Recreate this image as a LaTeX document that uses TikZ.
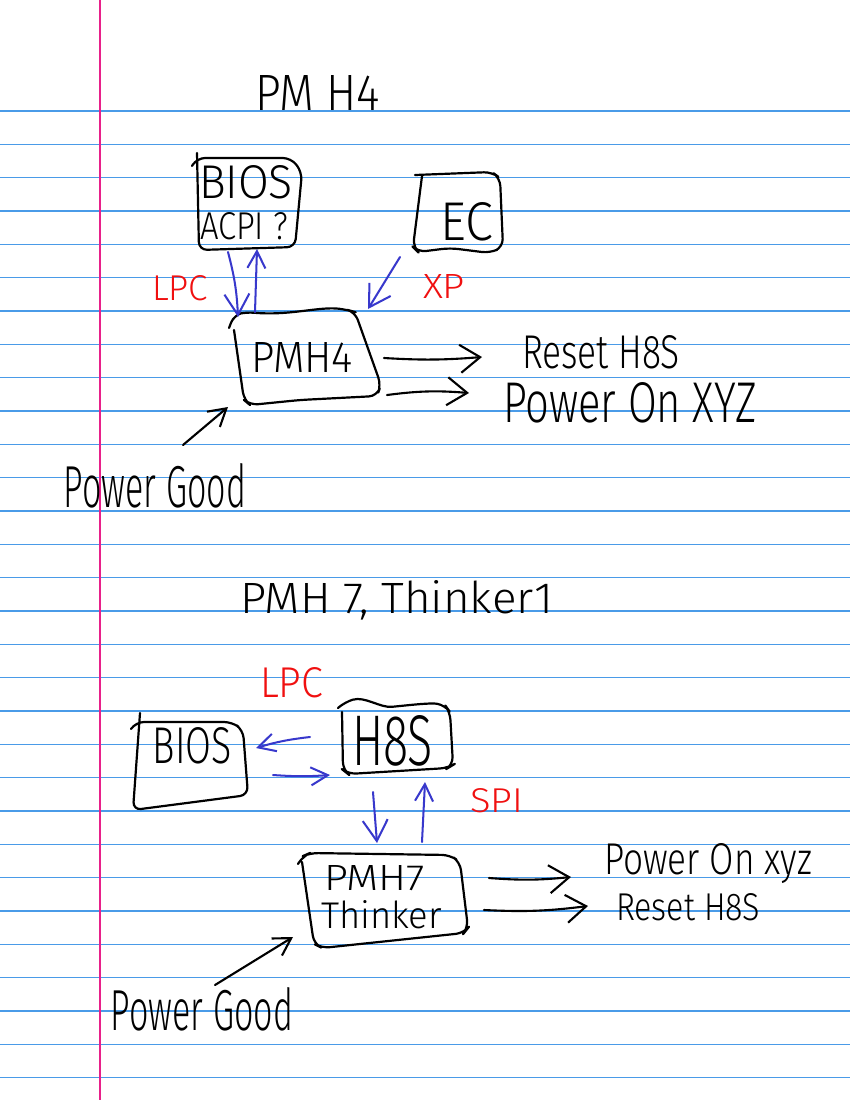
\documentclass[tikz,border=0pt]{standalone}
\usepackage{fontspec}
\setmainfont{Fira Sans}[UprightFont={* Light}]
\usetikzlibrary{arrows.meta}
\newlength{\pxu}\setlength{\pxu}{0.02cm}
\newcommand{\hw}[3]{\resizebox{#1\pxu}{#2\pxu}{#3}}
\definecolor{ruleblue}{HTML}{4A9BE8}
\definecolor{marginpink}{HTML}{E8208A}
\definecolor{penblue}{HTML}{3838CC}
\definecolor{penred}{HTML}{F01010}
\tikzset{
  ruled/.style={draw=ruleblue, line width=0.8pt},
  marginline/.style={draw=marginpink, line width=0.8pt},
  box/.style={draw=black, line width=1.25pt, line cap=round, line join=round, rounded corners=0.16cm},
  hw/.style={anchor=base west, inner sep=0pt, outer sep=0pt},
  redtext/.style={hw, text=penred},
  area/.style={draw=none, inner sep=0pt, outer sep=0pt},
  bluearrow/.style={draw=penblue, line width=1.15pt, line cap=round, line join=round, -{Straight Barb[length=0.42cm,width=0.5cm]}},
  bluesmall/.style={draw=penblue, line width=1.15pt, line cap=round, line join=round, -{Straight Barb[length=0.34cm,width=0.36cm]}},
  blackarrow/.style={draw=black, line width=1.2pt, line cap=round, line join=round, -{Straight Barb[length=0.4cm,width=0.56cm]}},
  blacksmall/.style={draw=black, line width=1.2pt, line cap=round, line join=round, -{Straight Barb[length=0.34cm,width=0.4cm]}}
}
\begin{document}
\begin{tikzpicture}[x=0.02cm, y=-0.02cm]
\useasboundingbox (0,0) rectangle (850,1100);
\fill[white] (0,0) rectangle (850,1100);
% ruled paper
\foreach \k in {0,...,29} {
  \draw[ruled] (0,{111+33.333*\k}) -- (850,{111+33.333*\k});
}
\draw[marginline] (100,0) -- (100,1100);

% ---------------- upper diagram ----------------
\node[hw] (title1) at (255,110) {\hw{125}{35}{PM H4}};

% BIOS / ACPI box
\node[area, minimum width=2.1cm, minimum height=1.84cm] (bios1) at (249,204) {};
\draw[box] (197,153) -- (199,250) -- (295,247) -- (302,172) -- (291,158) -- (197,158) -- (192,166);
\node[hw] (bios1a) at (199,198) {\hw{94}{33}{BIOS}};
\node[hw] (bios1b) at (200,239) {\hw{88}{27}{ACPI ?}};

% EC box
\node[area, minimum width=1.8cm, minimum height=1.6cm] (ec1) at (458,213) {};
\draw[box] (422,176) -- (413,247) -- (418,252) -- (450,248) -- (490,253) -- (503,247) -- (500,178) -- (492,172) -- (415,175);
\node[hw] (ec1t) at (440,240) {\hw{53}{38}{EC}};

% PMH4 box
\node[area, minimum width=3cm, minimum height=1.9cm] (pmh4) at (307,358) {};
\draw[box] (229,328) -- (234,315) -- (246,312) .. controls (290,316) and (320,306) .. (348,310) -- (355,312) -- (381,385) -- (377,396) -- (300,400) -- (250,405) -- (244,400) -- (234,330);
\node[hw] (pmh4t) at (251,372) {\hw{102}{30}{PMH4}};

% labels
\node[redtext] (lpc1) at (152,300) {\hw{56}{25}{LPC}};
\node[redtext] (xp1) at (423,298) {\hw{42}{24}{XP}};
\node[hw] (reset1) at (522,368) {\hw{158}{33}{Reset H8S}};
\node[hw] (pon1) at (503,422) {\hw{254}{40}{Power On XYZ}};
\node[hw] (pg1) at (64,507) {\hw{182}{44}{Power Good}};

% connectors
\coordinate (a1s) at (228,252); \coordinate (a1e) at (238,317);
\coordinate (a2s) at (255,312); \coordinate (a2e) at (257,249);
\coordinate (a3s) at (400,257); \coordinate (a3e) at (368,309);
\coordinate (a4s) at (384,358); \coordinate (a4e) at (482,357);
\coordinate (a5s) at (387,395); \coordinate (a5e) at (469,393);
\coordinate (a6s) at (183,445); \coordinate (a6e) at (228,407);
\draw[bluearrow] (a1s) to[bend left=6] (a1e);
\draw[bluesmall] (a2s) -- (a2e);
\draw[bluearrow] (a3s) -- (a3e);
\draw[blackarrow] (a4s) to[bend right=4] (a4e);
\draw[blackarrow] (a5s) to[bend left=6] (a5e);
\draw[blacksmall] (a6s) -- (a6e);

% ---------------- lower diagram ----------------
\node[hw] (title2) at (240,613) {\hw{313}{33}{PMH 7, Thinker1}};
\node[redtext] (lpc2) at (260,697) {\hw{63}{30}{LPC}};

% BIOS box
\node[area, minimum width=2.4cm, minimum height=1.8cm] (bios2) at (191,766) {};
\draw[box] (140,713) -- (133,810) -- (248,795) -- (243,730) -- (232,722) -- (136,722) -- (131,729);
\node[hw] (bios2t) at (153,763) {\hw{79}{36}{BIOS}};

% H8S box
\node[area, minimum width=2.3cm, minimum height=1.5cm] (h8s) at (396,737) {};
\draw[box] (338,708) -- (345,702) .. controls (365,696) and (380,708) .. (400,706) .. controls (420,704) and (432,703) .. (445,705) -- (450,712) -- (453,765) -- (448,768) -- (348,774) -- (343,770) -- (342,712);
\node[hw] (h8st) at (352,765) {\hw{81}{50}{H8S}};

\node[redtext] (spi) at (470,812) {\hw{53}{24}{SPI}};

% PMH7 box
\node[area, minimum width=3.3cm, minimum height=1.85cm] (pmh7) at (385,901) {};
\draw[box] (298,864) -- (303,856) -- (310,853) -- (450,855) -- (460,862) -- (468,928) -- (464,933) -- (322,948) -- (314,944) -- (302,862);
\node[hw] (pmh7a) at (324,890) {\hw{101}{25}{PMH7}};
\node[hw] (pmh7b) at (321,928) {\hw{121}{28}{Thinker}};

\node[hw] (pon2) at (604,874) {\hw{208}{31}{Power On xyz}};
\node[hw] (reset2) at (616,920) {\hw{144}{27}{Reset H8S}};
\node[hw] (pg2) at (111,1030) {\hw{182}{43}{Power Good}};

% connectors
\coordinate (a7s) at (310,737); \coordinate (a7e) at (256,748);
\coordinate (a8s) at (273,775); \coordinate (a8e) at (330,775);
\coordinate (a9s) at (373,792); \coordinate (a9e) at (377,843);
\coordinate (a10s) at (422,842); \coordinate (a10e) at (425,782);
\coordinate (a11s) at (489,878); \coordinate (a11e) at (571,877);
\coordinate (a12s) at (484,910); \coordinate (a12e) at (588,906);
\coordinate (a13s) at (215,985); \coordinate (a13e) at (293,937);
\draw[bluesmall] (a7s) to[bend right=5] (a7e);
\draw[bluesmall] (a8s) to[bend right=4] (a8e);
\draw[bluearrow] (a9s) -- (a9e);
\draw[bluesmall] (a10s) -- (a10e);
\draw[blackarrow] (a11s) to[bend right=5] (a11e);
\draw[blackarrow] (a12s) to[bend right=5] (a12e);
\draw[blacksmall] (a13s) -- (a13e);
\end{tikzpicture}
\end{document}
